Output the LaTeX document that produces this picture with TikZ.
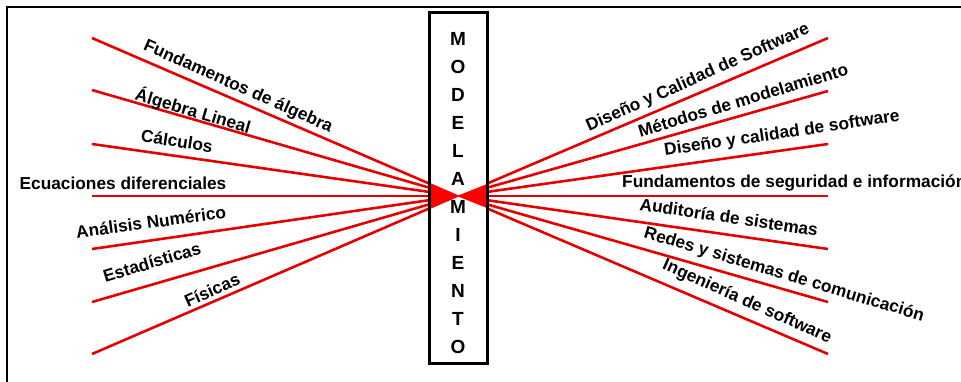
\documentclass[tikz,border=0pt]{standalone}
\usepackage{fontspec}
\setmainfont{Liberation Sans}
\begin{document}
\begin{tikzpicture}[x=1pt,y=-1pt,
  redline/.style={draw=red!90!black,line width=2.6pt},
  lab/.style={font=\fontsize{17.3}{20}\selectfont\bfseries,inner sep=0pt},
  letter/.style={font=\fontsize{19}{22}\selectfont\bfseries,inner sep=0pt}]
\useasboundingbox (0,0) rectangle (961,381);
\draw[line width=2pt] (7,7) rectangle (975,395);
\coordinate (c) at (458,196);
% left ends
\coordinate (l1) at (92,38);
\coordinate (l2) at (92,90);
\coordinate (l3) at (92,144);
\coordinate (l4) at (92,196);
\coordinate (l5) at (92,249);
\coordinate (l6) at (92,302);
\coordinate (l7) at (92,354);
% right ends
\coordinate (r1) at (828,38);
\coordinate (r2) at (828,91);
\coordinate (r3) at (828,144);
\coordinate (r4) at (828,196);
\coordinate (r5) at (828,249);
\coordinate (r6) at (828,302);
\coordinate (r7) at (828,354);
\foreach \i in {1,...,7}{\draw[redline] (l\i) -- (c); \draw[redline] (r\i) -- (c);}
% box
\node[fill=white,minimum width=57pt,minimum height=350pt,inner sep=0pt] (box) at (458.5,188) {};
\fill[red] (430,183) -- (430,209) -- (460,196) -- cycle;
\fill[red] (487,184) -- (487,208) -- (457,196) -- cycle;
\draw[line width=3pt] (box.north west) rectangle (box.south east);
\foreach \l [count=\k from 0] in {M,O,D,E,L,A,M,I,E,N,T,O}
  \node[letter] (m\k) at (458,39+28*\k) {\l};
% left labels
\node[lab,rotate=-24] (t1) at (238,87) {Fundamentos de álgebra};
\node[lab,rotate=-16.7] (t2) at (193,111) {Álgebra Lineal};
\node[lab,rotate=-8.4] (t3) at (177,141) {Cálculos};
\node[lab] (t4) at (123,183) {Ecuaciones diferenciales};
\node[lab,rotate=7.5] (t5) at (151,222) {Análisis Numérico};
\node[lab,rotate=16.7] (t6) at (152,262) {Estadísticas};
\node[lab,rotate=24] (t7) at (212,290) {Físicas};
% right labels
\node[lab,rotate=24] (u1) at (698,78) {Diseño y Calidad de Software};
\node[lab,rotate=16.7] (u2) at (743,100) {Métodos de modelamiento};
\node[lab,rotate=8.4] (u3) at (782,134) {Diseño y calidad de software};
\node[lab,anchor=west] (u4) at (622,183) {Fundamentos de seguridad e información};
\node[lab,rotate=-8.4] (u5) at (729,217) {Auditoría de sistemas};
\node[lab,rotate=-16.7] (u6) at (784,275) {Redes y sistemas de comunicación};
\node[lab,rotate=-24] (u7) at (747,302) {Ingeniería de software};
\end{tikzpicture}
\end{document}
